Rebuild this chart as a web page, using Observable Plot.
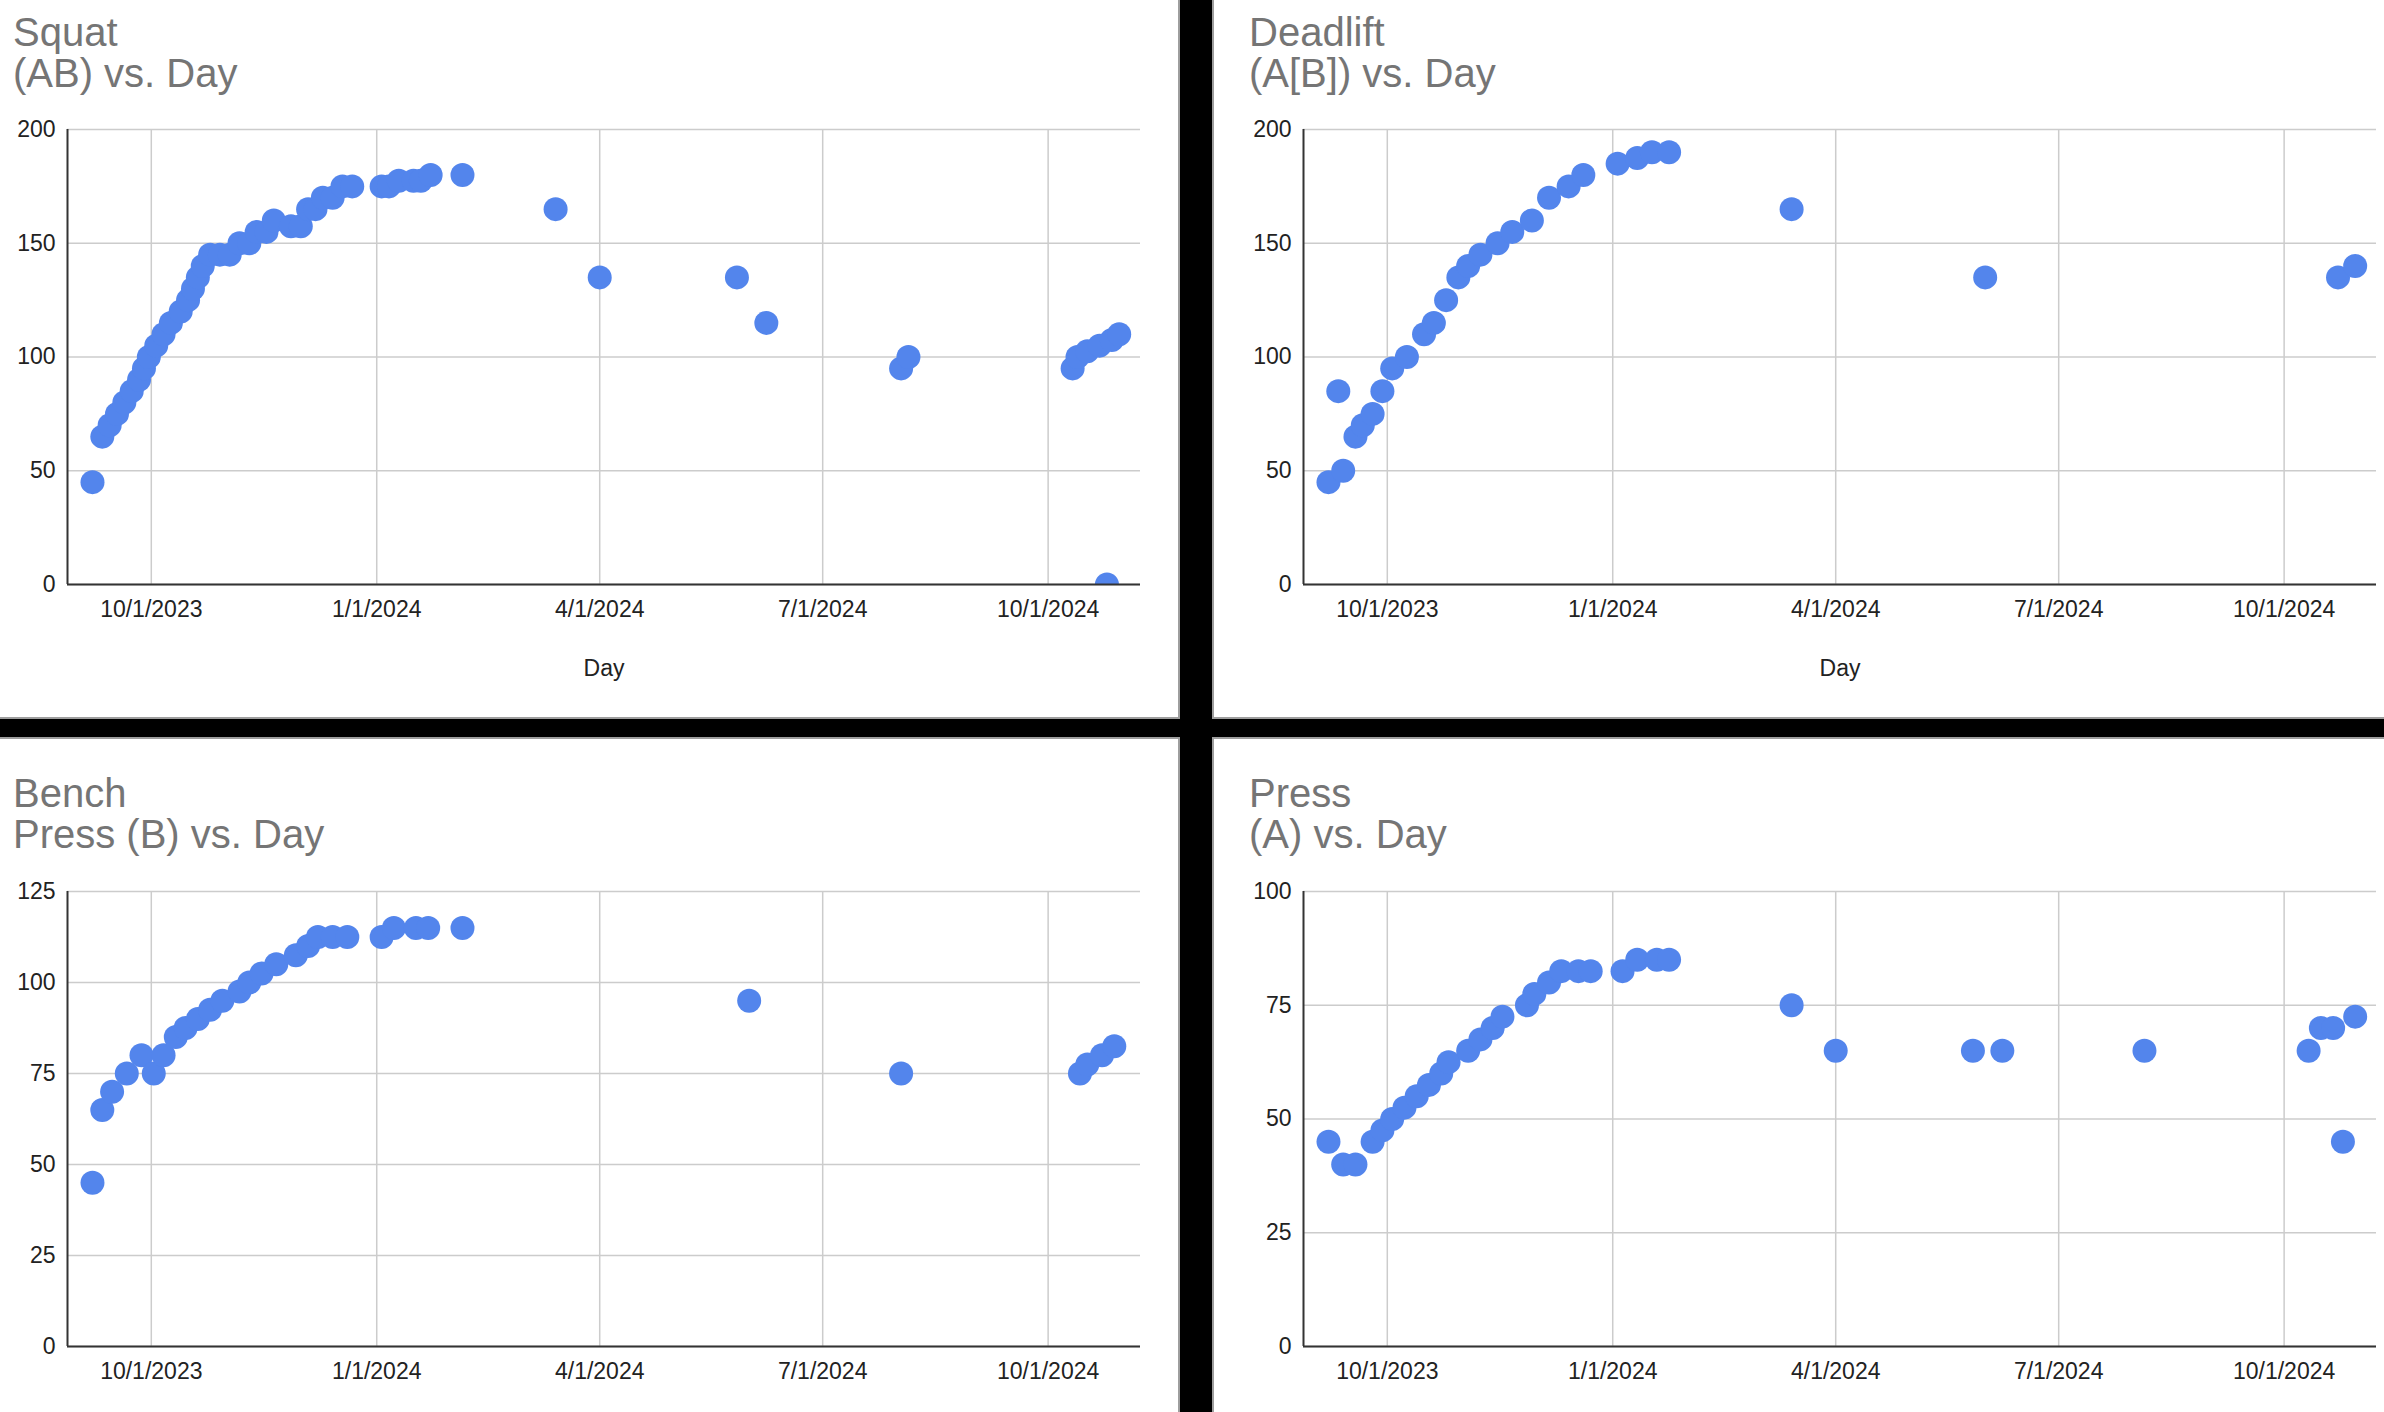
<!DOCTYPE html>
<html>
<head>
<meta charset="utf-8">
<script src="https://cdn.jsdelivr.net/npm/d3@7"></script>
<script src="https://cdn.jsdelivr.net/npm/@observablehq/plot@0.6"></script>
<style>
  html, body { margin: 0; padding: 0; }
  body { width: 2384px; height: 1412px; background: #000; position: relative; overflow: hidden;
         font-family: "Liberation Sans", Arial, sans-serif; }
  .panel { position: absolute; background: #fff; box-sizing: border-box; border: 0 solid #9e9e9e; }
  .title { position: absolute; color: #757575; font-size: 40px; line-height: 41px; white-space: nowrap; }
  .xlabel { position: absolute; color: #222; font-size: 23px; width: 200px; text-align: center; line-height: 26px; }
  .chart { position: absolute; }
</style>
</head>
<body>
<div class="panel" style="left:0;top:0;width:1180px;height:719px;border-right-width:2px;border-bottom-width:2px"></div>
<div class="panel" style="left:1212px;top:0;width:1172px;height:719px;border-left-width:2px;border-bottom-width:2px"></div>
<div class="panel" style="left:0;top:737px;width:1180px;height:675px;border-top-width:2px;border-right-width:2px"></div>
<div class="panel" style="left:1212px;top:737px;width:1172px;height:675px;border-left-width:2px;border-top-width:2px"></div>

<div class="title" style="left:13px;top:12px">Squat<br>(AB) vs. Day</div>
<div class="title" style="left:1249px;top:12px">Deadlift<br>(A[B]) vs. Day</div>
<div class="title" style="left:13px;top:773px">Bench<br>Press (B) vs. Day</div>
<div class="title" style="left:1249px;top:773px">Press<br>(A) vs. Day</div>

<div class="xlabel" style="left:504px;top:655px">Day</div>
<div class="xlabel" style="left:1740px;top:655px">Day</div>

<div id="tl" class="chart" style="left:0;top:100px"></div>
<div id="tr" class="chart" style="left:1214px;top:100px"></div>
<div id="bl" class="chart" style="left:0;top:862px"></div>
<div id="br" class="chart" style="left:1214px;top:862px"></div>

<script>
// ---- Data ----
const xTickDates = ["2023-10-01", "2024-01-01", "2024-04-01", "2024-07-01", "2024-10-01"];
const xTickLabels = ["10/1/2023", "1/1/2024", "4/1/2024", "7/1/2024", "10/1/2024"];

const squatDays = ["2023-09-07","2023-09-11","2023-09-14","2023-09-17","2023-09-20","2023-09-23","2023-09-26","2023-09-28","2023-09-30","2023-10-03","2023-10-06","2023-10-09","2023-10-13","2023-10-16","2023-10-18","2023-10-20","2023-10-22","2023-10-25","2023-10-29","2023-11-02","2023-11-06","2023-11-10","2023-11-13","2023-11-17","2023-11-20","2023-11-27","2023-12-01","2023-12-04","2023-12-07","2023-12-10","2023-12-14","2023-12-18","2023-12-22","2024-01-03","2024-01-06","2024-01-10","2024-01-16","2024-01-19","2024-01-23","2024-02-05","2024-03-14","2024-04-01","2024-05-27","2024-06-08","2024-08-02","2024-08-05","2024-10-11","2024-10-13","2024-10-17","2024-10-22","2024-10-25","2024-10-27","2024-10-30"];
const squatValues = [45,65,70,75,80,85,90,95,100,105,110,115,120,125,130,135,140,145,145,145,150,150,155,155,160,157.5,157.5,165,165,170,170,175,175,175,175,177.5,177.5,177.5,180,180,165,135,135,115,95,100,95,100,102.5,105,0,107.5,110];
const squatTicks = [0, 50, 100, 150, 200];

const deadliftDays = ["2023-09-07","2023-09-11","2023-09-13","2023-09-18","2023-09-21","2023-09-25","2023-09-29","2023-10-03","2023-10-09","2023-10-16","2023-10-20","2023-10-25","2023-10-30","2023-11-03","2023-11-08","2023-11-15","2023-11-21","2023-11-29","2023-12-06","2023-12-14","2023-12-20","2024-01-03","2024-01-11","2024-01-17","2024-01-24","2024-03-14","2024-06-01","2024-10-23","2024-10-30"];
const deadliftValues = [45,85,50,65,70,75,85,95,100,110,115,125,135,140,145,150,155,160,170,175,180,185,187.5,190,190,165,135,135,140];
const deadliftTicks = [0, 50, 100, 150, 200];

const benchDays = ["2023-09-07","2023-09-11","2023-09-15","2023-09-21","2023-09-27","2023-10-02","2023-10-06","2023-10-11","2023-10-15","2023-10-20","2023-10-25","2023-10-30","2023-11-06","2023-11-10","2023-11-15","2023-11-21","2023-11-29","2023-12-04","2023-12-08","2023-12-14","2023-12-20","2024-01-03","2024-01-08","2024-01-17","2024-01-22","2024-02-05","2024-06-01","2024-08-02","2024-10-14","2024-10-17","2024-10-23","2024-10-28"];
const benchValues = [45,65,70,75,80,75,80,85,87.5,90,92.5,95,97.5,100,102.5,105,107.5,110,112.5,112.5,112.5,112.5,115,115,115,115,95,75,75,77.5,80,82.5];
const benchTicks = [0, 25, 50, 75, 100, 125];

const pressDays = ["2023-09-07","2023-09-13","2023-09-18","2023-09-25","2023-09-29","2023-10-03","2023-10-08","2023-10-13","2023-10-18","2023-10-23","2023-10-26","2023-11-03","2023-11-08","2023-11-13","2023-11-17","2023-11-27","2023-11-30","2023-12-06","2023-12-11","2023-12-18","2023-12-23","2024-01-05","2024-01-11","2024-01-19","2024-01-24","2024-03-14","2024-04-01","2024-05-27","2024-06-08","2024-08-05","2024-10-11","2024-10-16","2024-10-21","2024-10-25","2024-10-30"];
const pressValues = [45,40,40,45,47.5,50,52.5,55,57.5,60,62.5,65,67.5,70,72.5,75,77.5,80,82.5,82.5,82.5,82.5,85,85,85,75,65,65,65,65,65,70,70,45,72.5];
const pressTicks = [0, 25, 50, 75, 100];

// ---- Drawing ----
const xDomain = [new Date("2023-08-27T19:12:00Z"), new Date("2024-11-07T16:48:00Z")];
const xTicks = xTickDates.map(d => new Date(d));
const dotColor = "#5385ec";

function chart(days, values, yTicks, width, marginLeft, marginRight) {
  const data = days.map((d, i) => ({date: new Date(d), value: values[i]}));
  return Plot.plot({
    width,
    height: 544,
    marginLeft,
    marginRight,
    marginTop: 29,
    marginBottom: 60,
    x: {type: "utc", domain: xDomain},
    y: {domain: [yTicks[0], yTicks[yTicks.length - 1]]},
    style: {fontFamily: "'Liberation Sans', Arial, sans-serif", fontSize: "23px", color: "#222", background: "transparent", overflow: "visible"},
    marks: [
      Plot.gridX(xTicks, {stroke: "#cccccc", strokeOpacity: 1, strokeWidth: 1.5}),
      Plot.gridY(yTicks, {stroke: "#cccccc", strokeOpacity: 1, strokeWidth: 1.5}),
      Plot.dot(data, {x: "date", y: "value", r: 12, fill: dotColor, clip: true}),
      Plot.ruleY([yTicks[0]], {stroke: "#333", strokeWidth: 2}),
      Plot.ruleX([xDomain[0]], {stroke: "#333", strokeWidth: 2}),
      Plot.axisX(xTicks, {tickSize: 0, tickPadding: 16, label: null,
        tickFormat: d => xTickLabels[xTicks.findIndex(t => +t === +d)]}),
      Plot.axisY(yTicks, {tickSize: 0, tickPadding: 12, label: null})
    ]
  });
}

document.getElementById("tl").append(chart(squatDays, squatValues, squatTicks, 1178, 67, 38));
document.getElementById("tr").append(chart(deadliftDays, deadliftValues, deadliftTicks, 1170, 89, 8));
document.getElementById("bl").append(chart(benchDays, benchValues, benchTicks, 1178, 67, 38));
document.getElementById("br").append(chart(pressDays, pressValues, pressTicks, 1170, 89, 8));
</script>
</body>
</html>
